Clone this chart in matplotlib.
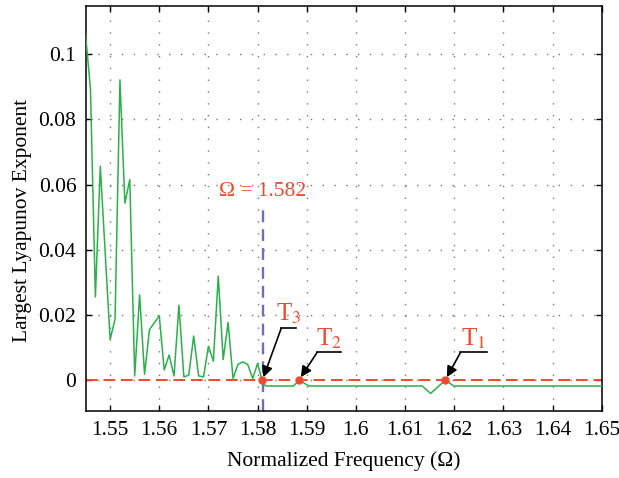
import matplotlib
matplotlib.use('Agg')
import matplotlib.pyplot as plt
from matplotlib.ticker import FuncFormatter

plt.rcParams['font.family'] = ['Liberation Serif', 'DejaVu Serif']
plt.rcParams['mathtext.fontset'] = 'stix'

# chaotic region, sampled every 0.001
freq_chaos = [1.545, 1.546, 1.547, 1.548, 1.549, 1.550, 1.551, 1.552, 1.553, 1.554,
              1.555, 1.556, 1.557, 1.558, 1.559, 1.560, 1.561, 1.562, 1.563, 1.564,
              1.565, 1.566, 1.567, 1.568, 1.569, 1.570, 1.571, 1.572, 1.573, 1.574,
              1.575, 1.576, 1.577, 1.578, 1.579, 1.580]
lle_chaos = [0.1061, 0.0893, 0.0255, 0.0656, 0.0390, 0.0125, 0.0187, 0.0921, 0.0543, 0.0615,
             0.0013, 0.0261, 0.0018, 0.0155, 0.0176, 0.0197, 0.0031, 0.0077, 0.0013, 0.0230,
             0.0010, 0.0015, 0.0135, 0.0013, 0.0010, 0.0104, 0.0058, 0.0319, 0.0063, 0.0177,
             0.0005, 0.0048, 0.0056, 0.0048, 0.0005, 0.0051]

# periodic region
freq_flat = [1.5809, 1.5816, 1.5873, 1.5885, 1.5904, 1.6135, 1.6152, 1.6182, 1.6199, 1.650]
lle_flat = [0.0, -0.0018, -0.0018, 0.0, -0.0018, -0.0018, -0.0041, 0.0, -0.0018, -0.0018]

# bifurcation points T1..T3
t_names = ['T$_1$', 'T$_2$', 'T$_3$']
t_freq = [1.6182, 1.5885, 1.5809]
omega_c = 1.581
omega_label = '\u03a9 = 1.582'

green = '#2BB04A'
red = '#EE4A2E'
purple = '#6E6EBE'

fig = plt.figure(figsize=(6.19, 4.78), dpi=100)
ax = fig.add_axes([0.139, 0.140, 0.833, 0.847])

ax.plot(freq_chaos + freq_flat, lle_chaos + lle_flat, color=green, lw=1.1, zorder=3)
ax.axhline(0, color=red, lw=1.4, ls=(0, (6, 3)), zorder=2)
ax.plot([omega_c, omega_c], [-0.0095, 0.0541], color=purple, lw=1.7, ls=(0, (5, 3)), zorder=2)
ax.text(omega_c, 0.0566, omega_label, color=red, fontsize=15.5, ha='center', va='baseline')

ax.plot(t_freq, [0, 0, 0], 'o', color=red, ms=5, zorder=5)

# leader line segments (x start, x end, y)
leaders = [(1.62128, 1.62658, 0.00848), (1.59210, 1.59699, 0.00848), (1.58483, 1.58782, 0.0160)]
for name, tf, (x0, x1, ly) in zip(t_names, t_freq, leaders):
    ax.plot([x0, x1], [ly, ly], color='k', lw=1.2, zorder=4)
    ax.annotate('', xy=(tf + 0.0003, 0.0009), xytext=(x0, ly),
                arrowprops=dict(arrowstyle='-|>', color='k', lw=1.2, mutation_scale=16,
                                shrinkA=0, shrinkB=0), zorder=4)
    ax.text((x0 + x1) / 2, ly + 0.0006, name, color=red, fontsize=18,
            ha='center', va='bottom')

ax.set_xlim(1.5451, 1.65)
ax.set_ylim(-0.0095, 0.1147)
ax.set_xticks([1.55, 1.56, 1.57, 1.58, 1.59, 1.6, 1.61, 1.62, 1.63, 1.64, 1.65])
ax.set_yticks([0, 0.02, 0.04, 0.06, 0.08, 0.1])
fmt = FuncFormatter(lambda v, p: '%g' % round(v, 4))
ax.xaxis.set_major_formatter(fmt)
ax.yaxis.set_major_formatter(fmt)

ax.grid(True, color='#777777', lw=1.0, ls=(0, (1, 7.5)))
ax.tick_params(direction='in', top=True, right=True, length=4, width=1.0,
               labelsize=15.5, pad=7)
for sp in ax.spines.values():
    sp.set_linewidth(1.1)

ax.set_xlabel('Normalized Frequency (\u03a9)', fontsize=15.5, labelpad=8)
ax.set_ylabel('Largest Lyapunov Exponent', fontsize=15.5)
ax.yaxis.set_label_coords(-0.105, 0.47)

fig.savefig('out.png', dpi=100)
